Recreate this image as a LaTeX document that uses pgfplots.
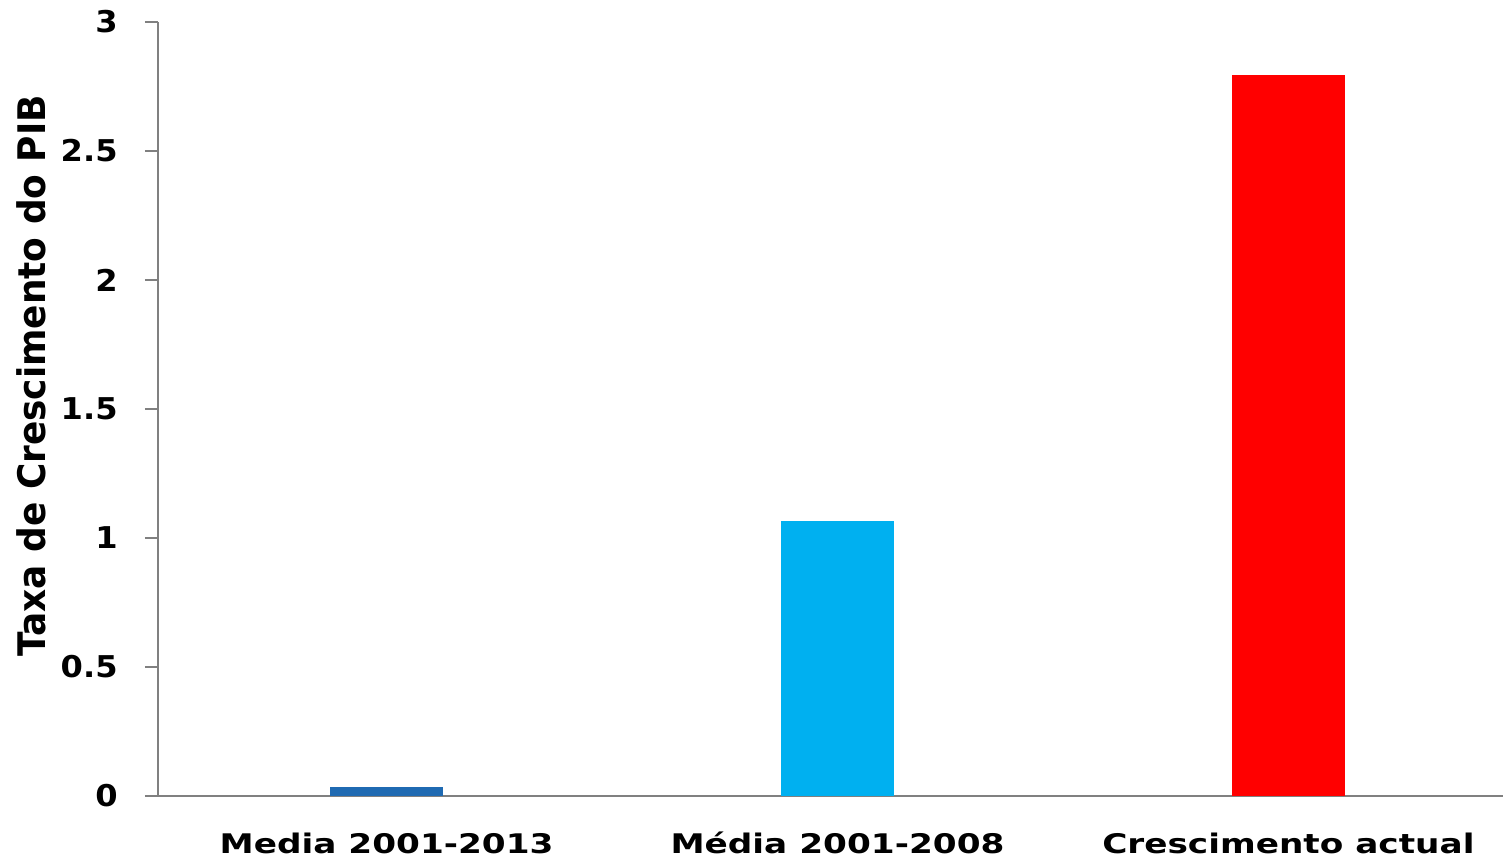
\documentclass[border=0pt]{standalone}
\usepackage{pgfplots}
\pgfplotsset{compat=1.18}
\usepackage{fontspec}
\setmainfont{DejaVu Sans}
\newfontfamily\xlabfont[FakeStretch=1.27]{DejaVu Sans}
\newfontfamily\ytickfont[FakeStretch=1.07]{DejaVu Sans}
\newfontfamily\ylabfont[FakeStretch=0.945]{DejaVu Sans}
\definecolor{bar1}{RGB}{31,106,178}
\definecolor{bar2}{RGB}{0,176,240}
\definecolor{bar3}{RGB}{255,0,0}
\definecolor{axgray}{RGB}{128,128,128}
\begin{document}
\begin{tikzpicture}
\useasboundingbox (-79pt,-35pt) rectangle (672.5pt,398pt);
\begin{axis}[
  at={(0pt,0pt)}, anchor=south west,
  scale only axis, width=672.5pt, height=387pt,
  xmin=-0.507, xmax=2.476, ymin=0, ymax=3,
  axis x line*=bottom,
  axis y line*=left,
  axis line style={axgray, line width=0.8pt, -},
  xtick={0,1,2},
  xticklabels={Media 2001-2013, Média 2001-2008, Crescimento actual},
  xtick style={draw=none},
  ytick={0,0.5,1,1.5,2,2.5,3},
  yticklabels={0,0.5,1,1.5,2,2.5,3},
  ytick style={axgray, line width=0.8pt},
  tick align=outside,
  major tick length=6.5pt,
  yticklabel style={font=\ytickfont\fontsize{15}{18}\selectfont\bfseries, anchor=east, inner sep=0pt, xshift=-13.5pt},
  xticklabel style={font=\xlabfont\fontsize{13.5}{16}\selectfont\bfseries, anchor=base, inner sep=0pt, yshift=-22.3pt},
  ylabel={Taxa de Crescimento do PIB},
  ylabel style={font=\ylabfont\fontsize{19}{22}\selectfont\bfseries, at={(axis description cs:0,0.543)}, anchor=base, inner sep=0pt, yshift=56pt},
  clip=false,
]
\addplot[ybar, bar width=56.5pt, fill=bar1, draw=none, bar shift=0pt] coordinates {(0,0.035)};
\addplot[ybar, bar width=56.5pt, fill=bar2, draw=none, bar shift=0pt] coordinates {(1,1.065)};
\addplot[ybar, bar width=56.5pt, fill=bar3, draw=none, bar shift=0pt] coordinates {(2,2.795)};
\end{axis}
\end{tikzpicture}
\end{document}
